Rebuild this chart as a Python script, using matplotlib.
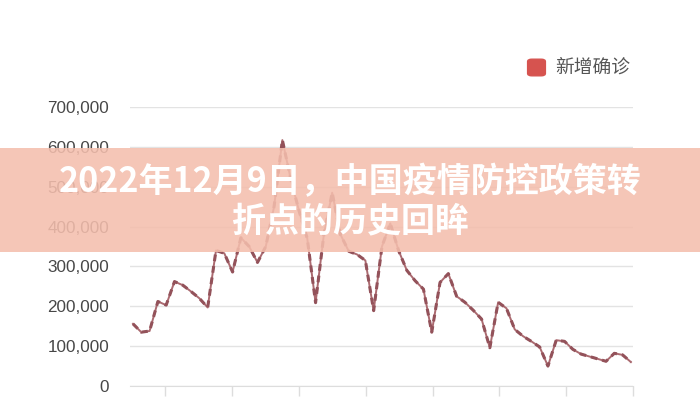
import matplotlib
matplotlib.use("Agg")
import matplotlib.pyplot as plt
import numpy as np
from matplotlib.patches import FancyBboxPatch, Rectangle

plt.rcParams['font.family'] = ['Noto Sans CJK SC', 'DejaVu Sans']

series_name = "新增确诊"
title_line1 = "2022年12月9日，中国疫情防控政策转"
title_line2 = "折点的历史回眸"
ytick_values = [0, 100000, 200000, 300000, 400000, 500000, 600000, 700000]
ytick_labels = ["0", "100,000", "200,000", "300,000", "400,000", "500,000", "600,000", "700,000"]

# daily new confirmed cases
new_cases = [156000, 135000, 138000, 212000, 203000, 262000, 253000, 237000, 220000, 197000,
             340000, 333000, 286000, 372000, 350000, 310000, 350000, 450000, 617000, 520000,
             440000, 370000, 209000, 380000, 485000, 380000, 338000, 330000, 315000, 189000,
             350000, 408000, 340000, 290000, 264000, 243000, 135000, 260000, 282000, 225000,
             210000, 190000, 168000, 96000, 210000, 195000, 142000, 125000, 112000, 98000,
             50000, 115000, 112000, 92000, 80000, 74000, 68000, 62000, 82000, 78000, 60000]

days = np.arange(len(new_cases))

fig = plt.figure(figsize=(7, 4), dpi=100)
ax = fig.add_axes([130/700, 14/400, 503/700, 279/400])

ax.plot(days, new_cases, color='#ab6a70', lw=1.4, solid_joinstyle='round', zorder=3)
ax.plot(days, new_cases, color='#93525a', lw=2.2, ls=(0, (2.2, 1.6)), zorder=3)

ax.set_ylim(0, 700000)
ax.set_xlim(-0.36, 60.24)
ax.set_yticks(ytick_values)
ax.set_yticklabels(ytick_labels, family=['Liberation Sans', 'DejaVu Sans'], fontsize=12.3, color='#474747')
ax.tick_params(axis='y', length=0, pad=15)
ax.grid(axis='y', color='#e3e3e3', lw=1)
ax.set_axisbelow(True)
xt = 3.9 + 8.05 * np.arange(8)
ax.set_xticks(xt)
ax.set_xticklabels([])
ax.tick_params(axis='x', length=7, color='#dddddd', width=1)
for s in ['top', 'right', 'left']:
    ax.spines[s].set_visible(False)
ax.spines['bottom'].set_color('#dddddd')

# legend
fig.patches.append(FancyBboxPatch((529/700, (400-75)/400), 15/700, 15/400,
                                  boxstyle="round,pad=0.002,rounding_size=0.006",
                                  transform=fig.transFigure, facecolor='#d6534f',
                                  edgecolor='#d6534f', figure=fig))
fig.text(555/700, (400-67)/400, series_name, fontsize=13.5, color='#555555', va='center', ha='left')

# title band
fig.patches.append(Rectangle((0, (400-252)/400), 1, 104/400, transform=fig.transFigure,
                             facecolor='#f4bead', alpha=0.88, edgecolor='none', zorder=5, figure=fig))
fig.text(0.5, (400-182)/400, title_line1, fontsize=24.5, fontweight='bold', color='white',
         ha='center', va='center', zorder=6)
fig.text(0.5, (400-221)/400, title_line2, fontsize=24.5, fontweight='bold', color='white',
         ha='center', va='center', zorder=6)

fig.savefig('out.png', dpi=100)
